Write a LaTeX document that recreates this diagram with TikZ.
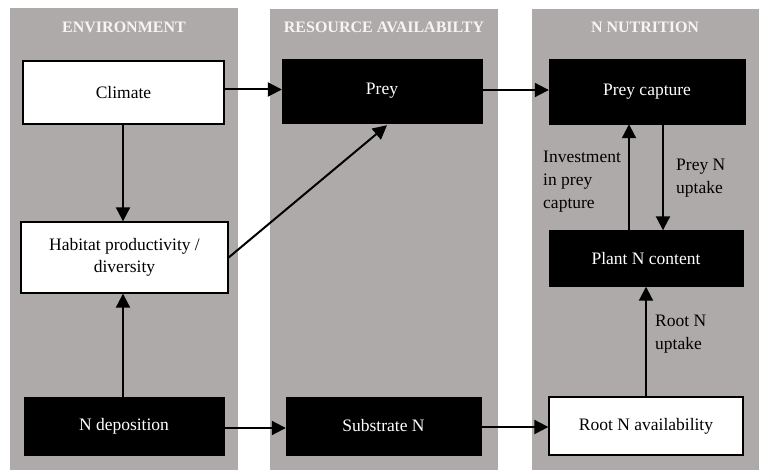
\documentclass[tikz,border=0pt]{standalone}
\usepackage{fontspec}
\setmainfont{Liberation Serif}
\usetikzlibrary{arrows.meta,calc}
\definecolor{colgray}{RGB}{174,170,169}
\definecolor{headwhite}{RGB}{245,245,245}
\begin{document}
\begin{tikzpicture}[x=1pt,y=-1pt,
  column/.style={fill=colgray,draw=none},
  header/.style={text=headwhite,font=\fontsize{16}{19}\selectfont\bfseries},
  wbox/.style={draw=black,line width=1.3pt,fill=white,font=\fontsize{17.5}{21.5}\selectfont,align=center,inner sep=0pt},
  bbox/.style={draw=black,fill=black,text=white,font=\fontsize{17.5}{21.5}\selectfont,align=center,inner sep=0pt},
  lbl/.style={font=\fontsize{17.5}{23}\selectfont,align=left,inner sep=0pt,anchor=north west},
  arr/.style={line width=2pt,-{Triangle[length=14pt,width=14pt]}}]
\useasboundingbox (0,0) rectangle (759,470);
\fill[white] (0,0) rectangle (759,470);
% columns
\fill[column] (10,8) rectangle (238,470);
\fill[column] (270,9) rectangle (498,470);
\fill[column] (532,9) rectangle (759,470);
\node[header] (h1) at (124,27) {ENVIRONMENT};
\node[header] (h2) at (384,27) {RESOURCE AVAILABILTY};
\node[header] (h3) at (645,27) {N NUTRITION};
% boxes
\node[wbox,minimum width=201pt,minimum height=63pt] (climate) at (123.5,92.5) {Climate};
\node[bbox,minimum width=200pt,minimum height=64pt] (prey) at (382,91) {Prey};
\node[bbox,minimum width=196pt,minimum height=65pt] (pc) at (647,91.5) {Prey capture};
\node[wbox,minimum width=207pt,minimum height=71pt] (habitat) at (124.5,257.5) {Habitat productivity /\\diversity};
\node[bbox,minimum width=194pt,minimum height=56pt] (plant) at (646,258.5) {Plant N content};
\node[bbox,minimum width=200pt,minimum height=58pt] (ndep) at (124,426) {N deposition};
\node[bbox,minimum width=195pt,minimum height=58pt] (sub) at (383.5,426) {Substrate N};
\node[wbox,minimum width=194pt,minimum height=58pt] (root) at (646,426) {Root N availability};
% arrows
\draw[arr] ([yshift=3pt]climate.east) -- ([yshift=3pt]climate.east -| prey.west);
\draw[arr] ([yshift=1pt]prey.east) -- ([yshift=1pt]prey.east -| pc.west);
\draw[arr] ([xshift=-0.5pt]climate.south) -- ([xshift=-1.5pt]habitat.north);
\draw[arr] ([xshift=-1pt]ndep.north) -- ([xshift=-1.5pt]habitat.south);
\draw[arr] (habitat.east) -- ([xshift=5pt,yshift=-2pt]prey.south);
\draw[arr] ([yshift=-2pt]ndep.east) -- ([yshift=-2pt]ndep.east -| sub.west);
\draw[arr] ([yshift=-1pt]sub.east) -- ([yshift=-1pt]sub.east -| root.west);
\draw[arr] ([xshift=-17pt]plant.north) -- ([xshift=-17pt]plant.north |- pc.south);
\draw[arr] ([xshift=16pt]pc.south) -- ([xshift=16pt]pc.south |- plant.north);
\draw[arr] (root.north) -- (plant.south);
% labels
\node[lbl] (l1) at (543,151) {Investment\\in prey\\capture};
\node[lbl] (l2) at (676,159) {Prey N\\uptake};
\node[lbl] (l3) at (655,315) {Root N\\uptake};
\end{tikzpicture}
\end{document}
